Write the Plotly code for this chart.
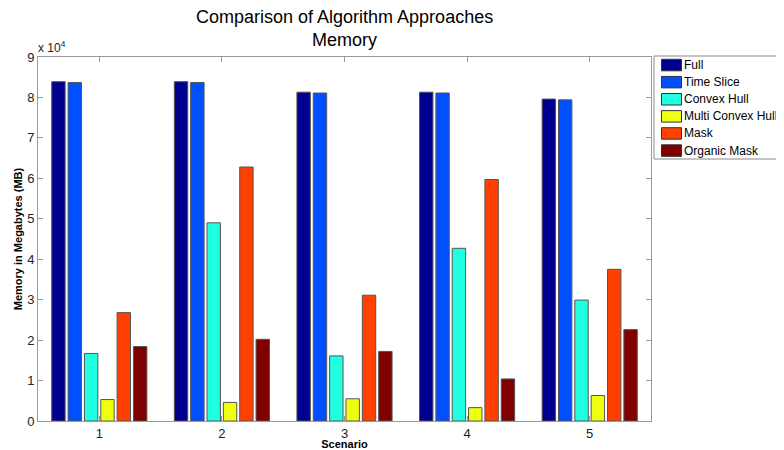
import plotly.graph_objects as go

scenarios = [1, 2, 3, 4, 5]
full = [83900, 83900, 81300, 81300, 79600]
time_slice = [83700, 83700, 81100, 81100, 79400]
convex_hull = [16700, 49000, 16100, 42700, 29900]
multi_convex_hull = [5300, 4600, 5500, 3300, 6300]
mask = [26800, 62800, 31100, 59700, 37500]
organic_mask = [18400, 20200, 17200, 10400, 22600]

series_names = ["Full", "Time Slice", "Convex Hull", "Multi Convex Hull", "Mask", "Organic Mask"]
series_values = [full, time_slice, convex_hull, multi_convex_hull, mask, organic_mask]
series_colors = ["#00008F", "#0050FF", "#20FFDF", "#EFFF10", "#FF4000", "#800000"]

FONT = "Liberation Sans, Arial, sans-serif"
# page body has an 8px margin, so the figure is 8px smaller than the window
OFF = 8
W, H = 784 - OFF, 450 - OFF
L, R, T, B = 38 - OFF, 784 - 651, 57 - OFF, 450 - 421

fig = go.Figure()
for name, vals, col in zip(series_names, series_values, series_colors):
    fig.add_trace(go.Bar(
        x=scenarios, y=vals, name=name, showlegend=False,
        marker=dict(color=col, line=dict(color="#555555", width=1)),
    ))

fig.update_layout(
    width=W, height=H,
    margin=dict(l=L, r=R, t=T, b=B, autoexpand=False),
    paper_bgcolor="white", plot_bgcolor="white",
    barmode="group", bargap=0.2, bargroupgap=0.18,
    font=dict(family=FONT, size=13, color="#222222"),
    showlegend=False,
)
fig.update_xaxes(
    range=[0.5, 5.5], tickvals=scenarios, ticktext=[str(s) for s in scenarios],
    ticks="inside", ticklen=5, tickcolor="#999999",
    showline=True, linecolor="#999999", linewidth=1, mirror="ticks",
    showgrid=False, zeroline=False, automargin=False,
    tickfont=dict(family=FONT, size=13, color="#222222"),
    title=dict(text="<b>Scenario</b>", standoff=11,
               font=dict(family=FONT, size=11, color="#000000")),
)
fig.update_yaxes(
    range=[0, 90000], tickvals=[i * 10000 for i in range(10)],
    ticktext=[str(i) for i in range(10)],
    ticks="inside", ticklen=5, tickcolor="#999999",
    showline=True, linecolor="#999999", linewidth=1, mirror="ticks",
    showgrid=False, zeroline=False, automargin=False,
    tickfont=dict(family=FONT, size=13, color="#222222"),
    title=dict(text="<b>Memory in Megabytes (MB)</b>", standoff=2,
               font=dict(family=FONT, size=11, color="#000000")),
)

pw, ph = W - L - R, H - T - B
def px(x):
    """reference-picture x pixel -> paper coordinate"""
    return (x - OFF - L) / pw
def py(y):
    """reference-picture y pixel -> paper coordinate"""
    return (H - B - (y - OFF)) / ph

# Title
fig.add_annotation(xref="paper", yref="paper", x=px(345), y=py(5),
                   xanchor="center", yanchor="top", showarrow=False,
                   text="Comparison of Algorithm Approaches<br>Memory",
                   font=dict(family=FONT, size=18, color="#000000"))

fig.add_annotation(xref="paper", yref="paper", x=0, y=1, xanchor="left",
                   yanchor="bottom", xshift=-2, showarrow=False,
                   text="x 10<sup>4</sup>",
                   font=dict(family=FONT, size=12, color="#222222"))

# Legend box
fig.add_shape(type="rect", xref="paper", yref="paper",
              x0=px(654), x1=px(800), y0=py(159), y1=py(56),
              line=dict(color="#888888", width=1), fillcolor="white")
pitch = 17.1
for i, (name, col) in enumerate(zip(series_names, series_colors)):
    top = 59.3 + i * pitch
    fig.add_shape(type="rect", xref="paper", yref="paper",
                  x0=px(661.5), x1=px(681.5), y0=py(top + 11.5), y1=py(top),
                  line=dict(color="#333333", width=1), fillcolor=col)
    fig.add_annotation(xref="paper", yref="paper", x=px(682), y=py(top + 5.75),
                       xanchor="left", yanchor="middle", showarrow=False,
                       text=name, font=dict(family=FONT, size=12, color="#000000"))

fig.write_html("out.html")
